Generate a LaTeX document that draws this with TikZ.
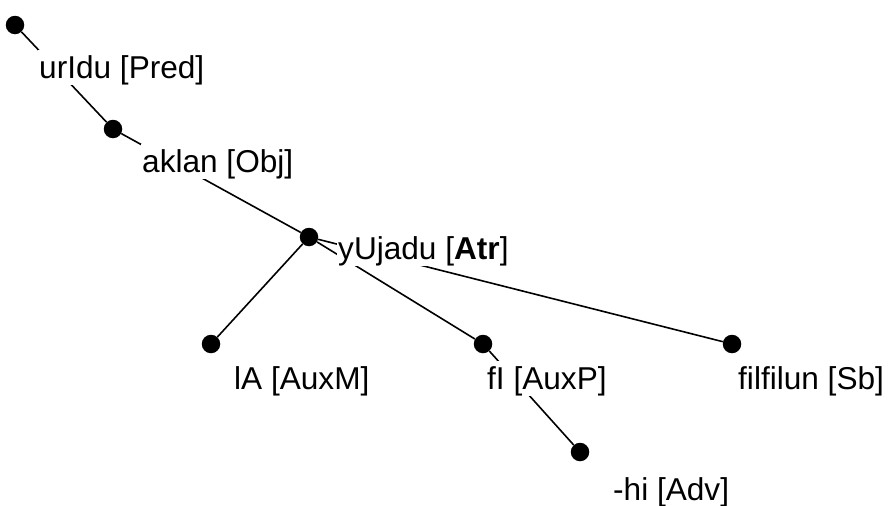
\documentclass[tikz,border=0pt]{standalone}
\usepackage{fontspec}
\setmainfont{Liberation Sans}
\begin{document}
\begin{tikzpicture}[x=1pt,y=-1pt,
  treedot/.style={circle,fill=black,inner sep=0pt,minimum size=18.5pt},
  treelabel/.style={anchor=base west,fill=white,inner xsep=1pt,inner ysep=0pt,
    text height=28pt,text depth=7pt,font=\fontsize{31.6}{36}\selectfont},
  treeedge/.style={line width=1.6pt}]
\useasboundingbox (0,0) rectangle (889,506);
% dots
\node[treedot] (d1) at (15,25) {};
\node[treedot] (d2) at (113,129) {};
\node[treedot] (d3) at (309,237) {};
\node[treedot] (d4) at (211,344) {};
\node[treedot] (d5) at (483,344) {};
\node[treedot] (d6) at (732,344) {};
\node[treedot] (d7) at (580,452) {};
% edges
\draw[treeedge] (d1) -- (d2);
\draw[treeedge] (d2) -- (d3);
\draw[treeedge] (d3) -- (d4);
\draw[treeedge] (d3) -- (d5);
\draw[treeedge] (d3) -- (d6);
\draw[treeedge] (d5) -- (d7);
% labels
\node[treelabel] (l1) at (38,78) {urIdu [Pred]};
\node[treelabel] (l2) at (141,172) {aklan [Obj]};
\node[treelabel] (l3) at (337,259) {yUjadu [\textbf{Atr}]};
\node[treelabel] (l4) at (233,389) {lA [AuxM]};
\node[treelabel] (l5) at (486,389) {fI [AuxP]};
\node[treelabel] (l6) at (737,389) {filfilun [Sb]};
\node[treelabel] (l7) at (612,500) {-hi [Adv]};
\end{tikzpicture}
\end{document}
